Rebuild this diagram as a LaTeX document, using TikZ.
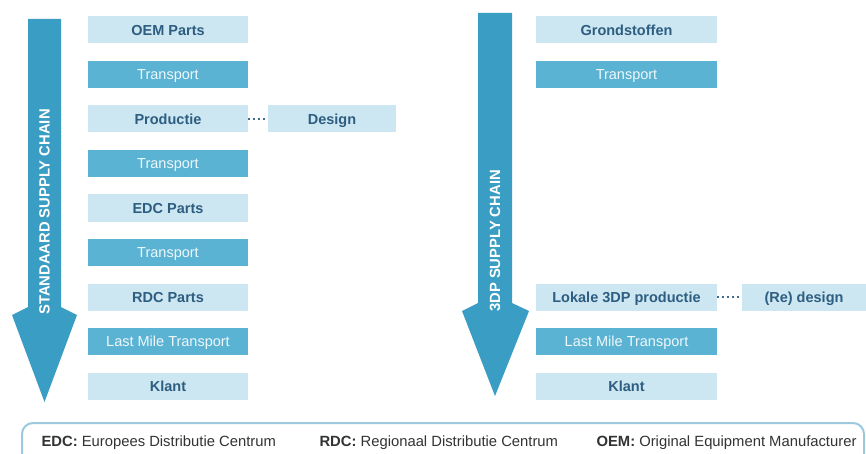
\documentclass[tikz,border=0pt]{standalone}
\usepackage{fontspec}
\setmainfont{Liberation Sans}
\begin{document}
\definecolor{arrowblue}{HTML}{3A9DC4}
\definecolor{darkbox}{HTML}{5BB3D3}
\definecolor{lightbox}{HTML}{CCE7F2}
\definecolor{navytext}{HTML}{2D5D80}
\definecolor{whitetext}{HTML}{EEF7FB}
\definecolor{legendline}{HTML}{9DC9DE}
\definecolor{legendtext}{HTML}{333333}
\definecolor{dotcol}{HTML}{3F6C8C}
\begin{tikzpicture}[x=1pt,y=-1pt,
  boxbase/.style={minimum height=27pt,inner sep=0pt,text height=10.4pt,text depth=0pt,
    font=\fontsize{14.5}{16}\selectfont},
  lightstep/.style={boxbase,fill=lightbox,text=navytext,font=\fontsize{14.5}{16}\selectfont\bfseries},
  darkstep/.style={boxbase,fill=darkbox,text=whitetext},
  leftcol/.style={minimum width=160pt},
  rightcol/.style={minimum width=181pt},
  dotlink/.style={draw=dotcol,line width=2pt,dash pattern=on 2pt off 3pt},
  chainlabel/.style={rotate=90,text=white,text height=10.4pt,text depth=0pt,
    font=\fontsize{14.8}{16}\selectfont\bfseries},
  legend/.style={anchor=base west,text=legendtext,font=\fontsize{14.8}{17}\selectfont}]
\useasboundingbox (0,0) rectangle (866,454);
\fill[white] (0,0) rectangle (866,454);

% big downward arrows
\fill[arrowblue] (28,19) -- (61,19) -- (61,307) -- (77,315) -- (44.5,402)
  -- (12,315) -- (28,307) -- cycle;
\fill[arrowblue] (478,13) -- (512,13) -- (512,303) -- (529,311) -- (495,396)
  -- (462,311) -- (478,303) -- cycle;
\node[chainlabel] (stdlabel) at (44.5,212) {STANDAARD SUPPLY CHAIN};
\node[chainlabel] (dplabel) at (495,241) {3DP SUPPLY CHAIN};

% standard supply chain
\node[lightstep,leftcol] (oem) at (168,30) {OEM Parts};
\node[darkstep,leftcol] (t1) at (168,74.5) {Transport};
\node[lightstep,leftcol] (prod) at (168,119) {Productie};
\node[lightstep,minimum width=128pt] (design) at (332,119) {Design};
\node[darkstep,leftcol] (t2) at (168,163.5) {Transport};
\node[lightstep,leftcol] (edc) at (168,208) {EDC Parts};
\node[darkstep,leftcol] (t3) at (168,252.5) {Transport};
\node[lightstep,leftcol] (rdc) at (168,297) {RDC Parts};
\node[darkstep,leftcol] (lm1) at (168,341.5) {Last Mile Transport};
\node[lightstep,leftcol] (klant1) at (168,386) {Klant};
\draw[dotlink] (prod.east) -- (design.west);

% 3DP supply chain
\node[lightstep,rightcol] (grond) at (626.5,30) {Grondstoffen};
\node[darkstep,rightcol] (t4) at (626.5,74.5) {Transport};
\node[lightstep,rightcol] (lokaal) at (626.5,297) {Lokale 3DP productie};
\node[lightstep,minimum width=124pt] (redesign) at (804,297) {(Re) design};
\node[darkstep,rightcol] (lm2) at (626.5,341.5) {Last Mile Transport};
\node[lightstep,rightcol] (klant2) at (626.5,386) {Klant};
\draw[dotlink] (lokaal.east) -- (redesign.west);

% legend frame and abbreviations
\draw[legendline,line width=2pt,rounded corners=11pt] (22,480) -- (22,423) -- (864,423) -- (864,480);
\node[legend] (edcdef) at (38,446) {\textbf{EDC:} Europees Distributie Centrum};
\node[legend] (rdcdef) at (316,446) {\textbf{RDC:} Regionaal Distributie Centrum};
\node[legend] (oemdef) at (593,446) {\textbf{OEM:} Original Equipment Manufacturer};
\end{tikzpicture}
\end{document}
